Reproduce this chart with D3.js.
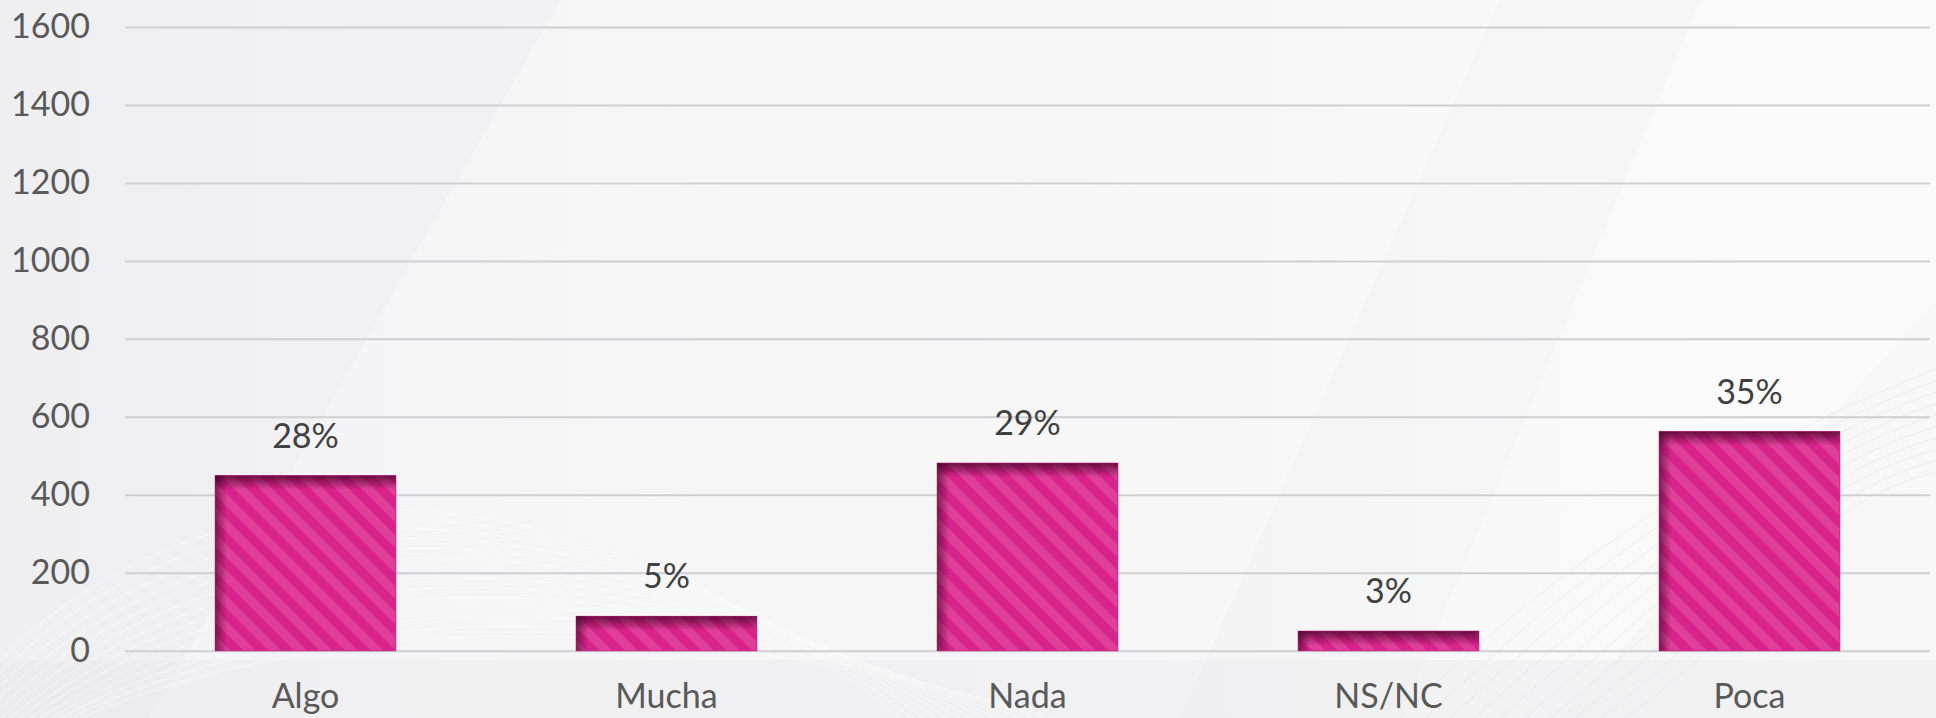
<!DOCTYPE html>
<html><head><meta charset="utf-8">
<script src="https://cdn.jsdelivr.net/npm/d3@7/dist/d3.min.js"></script>
<style>html,body{margin:0;padding:0;background:#f3f3f5;overflow:hidden}svg{display:block}</style>
</head><body>
<svg id="c" width="1936" height="718"></svg>
<script>
const categories = ["Algo", "Mucha", "Nada", "NS/NC", "Poca"];
const values = [449, 88, 481, 50, 562];
const pctLabels = ["28%", "5%", "29%", "3%", "35%"];
const yTicks = [0, 200, 400, 600, 800, 1000, 1200, 1400, 1600];

const W = 1936, H = 718;
const svg = d3.select("#c");
const defs = svg.append("defs");

// background
const bg = defs.append("linearGradient").attr("id","bg").attr("x1","0").attr("y1","0").attr("x2","1").attr("y2","0");
bg.append("stop").attr("offset","0").attr("stop-color","#efeff2");
bg.append("stop").attr("offset","0.5").attr("stop-color","#f3f3f4");
bg.append("stop").attr("offset","1").attr("stop-color","#f8f8f8");
svg.append("rect").attr("width",W).attr("height",H).attr("fill","url(#bg)");
svg.append("path").attr("d","M560,0 L1500,0 L1180,718 L150,718 Z").attr("fill","#ffffff").attr("opacity",0.3);
svg.append("path").attr("d","M1700,0 L1936,0 L1936,300 L1560,718 L1400,718 Z").attr("fill","#ffffff").attr("opacity",0.35);
svg.append("rect").attr("x",0).attr("y",660).attr("width",W).attr("height",58).attr("fill","#e9e9ec").attr("opacity",0.4);
const waves = svg.append("g").attr("fill","none").attr("stroke","#ffffff").attr("stroke-width",1.2).attr("opacity",0.45);
for (let i = 0; i < 14; i++) {
  waves.append("path").attr("d", `M${-50+i*10},${718} C${150+i*15},${450+i*12} ${550+i*10},${430+i*14} ${900+i*12},${718}`);
}
const waves2 = svg.append("g").attr("fill","none").attr("stroke","#e2e2e6").attr("stroke-width",1).attr("opacity",0.5);
for (let i = 0; i < 10; i++) {
  waves2.append("path").attr("d", `M${1400+i*25},${718} C${1600+i*20},${520+i*10} ${1800},${420+i*8} ${1960},${360+i*12}`);
}

// stripes pattern
const pat = defs.append("pattern").attr("id","stripes").attr("patternUnits","userSpaceOnUse")
  .attr("width",18).attr("height",18).attr("patternTransform","rotate(-45)");
pat.append("rect").attr("width",18).attr("height",18).attr("fill","#d8238a");
pat.append("rect").attr("width",9).attr("height",18).attr("fill","#df3f98");

const gTop = defs.append("linearGradient").attr("id","shTop").attr("x1","0").attr("y1","0").attr("x2","0").attr("y2","1");
gTop.append("stop").attr("offset","0").attr("stop-color","#3a0020").attr("stop-opacity",0.7);
gTop.append("stop").attr("offset","1").attr("stop-color","#3a0020").attr("stop-opacity",0);
const gLeft = defs.append("linearGradient").attr("id","shLeft").attr("x1","0").attr("y1","0").attr("x2","1").attr("y2","0");
gLeft.append("stop").attr("offset","0").attr("stop-color","#3a0020").attr("stop-opacity",0.55);
gLeft.append("stop").attr("offset","1").attr("stop-color","#3a0020").attr("stop-opacity",0);

const x0 = 125, x1 = 1930, yBase = 650.7, yTop = 27;
const x = d3.scaleBand().domain(categories).range([x0, x1]).paddingInner(0.5).paddingOuter(0.25);
const y = d3.scaleLinear().domain([0, 1600]).range([yBase, yTop]);

const font = "Lato, 'Noto Sans', sans-serif";

// gridlines + y axis
const ax = svg.append("g").attr("transform", `translate(${x0},0)`)
  .call(d3.axisLeft(y).tickValues(yTicks).tickSize(-(x1 - x0)).tickPadding(35).tickFormat(d3.format("d")));
ax.select(".domain").remove();
ax.selectAll(".tick line").attr("stroke","#cfcfd2").attr("stroke-width",2);
ax.selectAll(".tick text").attr("fill","#595959").style("font-family",font).style("font-size","34px");

// bars
const bars = svg.append("g").selectAll("g").data(categories).join("g");
bars.append("rect")
  .attr("x", d => x(d)).attr("width", x.bandwidth())
  .attr("y", (d,i) => y(values[i])).attr("height", (d,i) => y(0) - y(values[i]))
  .attr("fill","url(#stripes)").attr("stroke","#c81f80").attr("stroke-width",1);
bars.append("rect")
  .attr("x", d => x(d)).attr("width", x.bandwidth())
  .attr("y", (d,i) => y(values[i])).attr("height", (d,i) => Math.min(14, y(0) - y(values[i])))
  .attr("fill","url(#shTop)");
bars.append("rect")
  .attr("x", d => x(d)).attr("width", 12)
  .attr("y", (d,i) => y(values[i])).attr("height", (d,i) => y(0) - y(values[i]))
  .attr("fill","url(#shLeft)");

// value labels
svg.append("g").selectAll("text").data(categories).join("text")
  .attr("x", d => x(d) + x.bandwidth()/2)
  .attr("y", (d,i) => y(values[i]) - 28)
  .attr("text-anchor","middle").attr("fill","#404040")
  .style("font-family",font).style("font-size","34px")
  .text((d,i) => pctLabels[i]);

// category labels
svg.append("g").selectAll("text").data(categories).join("text")
  .attr("x", d => x(d) + x.bandwidth()/2)
  .attr("y", 708)
  .attr("text-anchor","middle").attr("fill","#595959")
  .style("font-family",font).style("font-size","34px")
  .text(d => d);
</script>
</body></html>
